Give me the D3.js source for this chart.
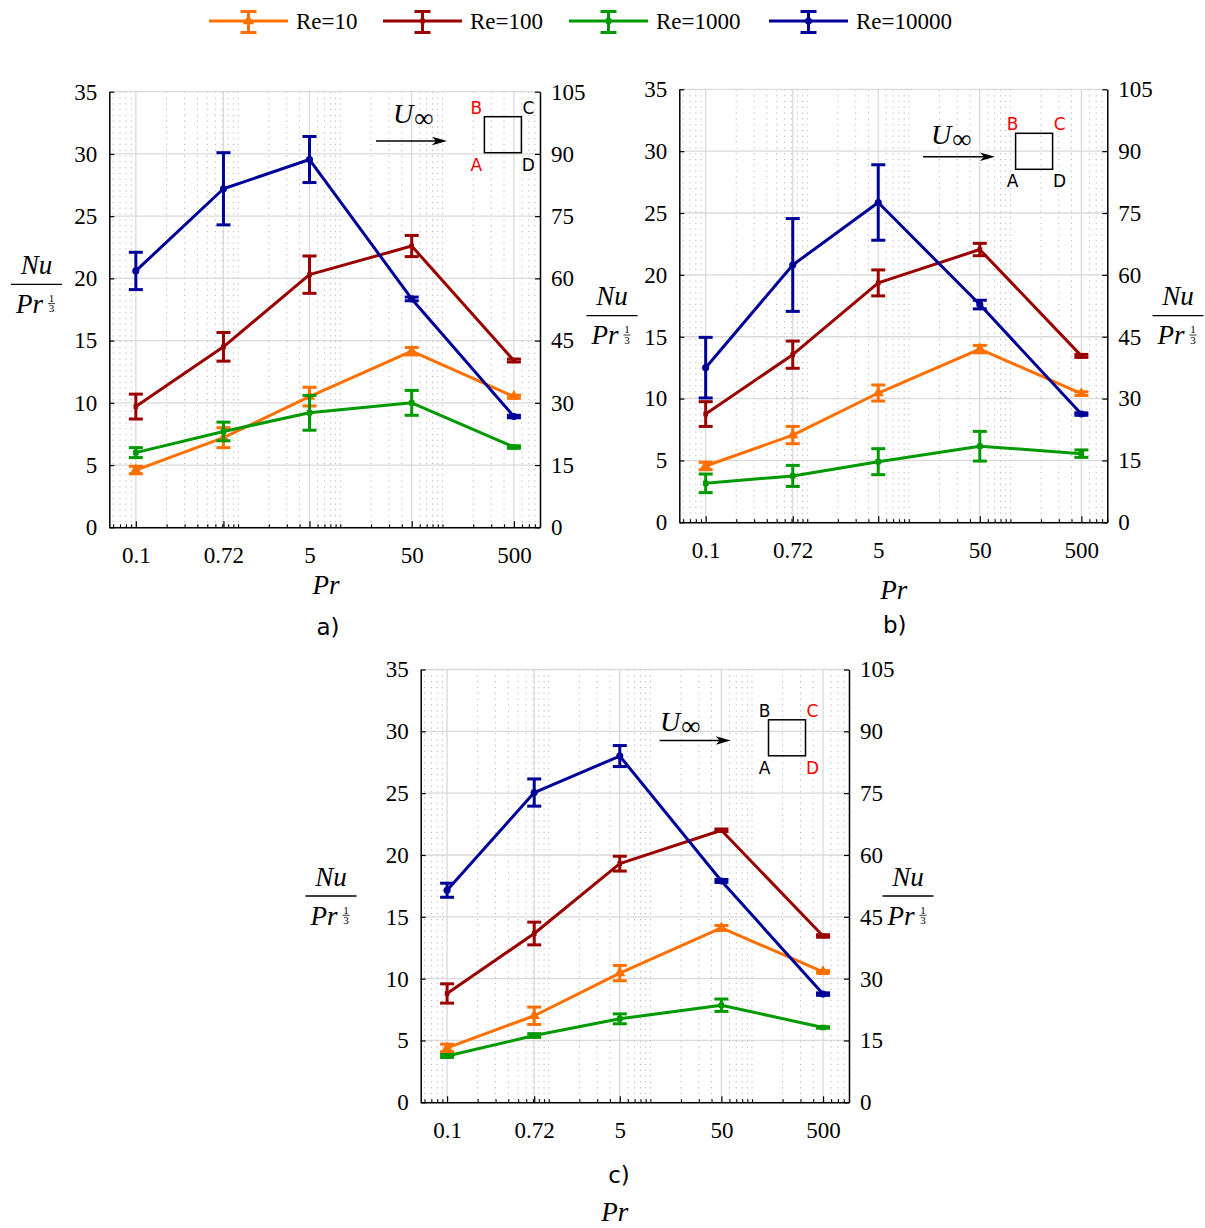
<!DOCTYPE html>
<html>
<head>
<meta charset="utf-8">
<script src="https://cdn.jsdelivr.net/npm/d3@7"></script>
<style>
  body { margin: 0; background: #fff; }
  svg { display: block; }
</style>
</head>
<body>
<svg id="chart" width="1205" height="1228"></svg>
<script>
// ---------- data ----------
const prValues = [0.1, 0.72, 5, 50, 500];
const prTickLabels = ["0.1", "0.72", "5", "50", "500"];
const seriesNames = ["Re=10", "Re=100", "Re=1000", "Re=10000"];
const leftTicks = [0, 5, 10, 15, 20, 25, 30, 35];
const rightTicks = [0, 15, 30, 45, 60, 75, 90, 105];
const cornerLetters = ["A", "B", "C", "D"];

// a) faces A-B highlighted; rows: Re=10, Re=100, Re=1000, Re=10000
const nuA = [
  [4.6, 7.2, 10.5, 14.15, 10.5],
  [9.7, 14.5, 20.3, 22.6, 13.4],
  [6.0, 7.7, 9.2, 10.0, 6.45],
  [20.6, 27.2, 29.55, 18.35, 8.9]
];
const errA = [
  [0.3, 0.8, 0.75, 0.3, 0.12],
  [1.0, 1.15, 1.5, 0.85, 0.12],
  [0.4, 0.75, 1.4, 1.0, 0.1],
  [1.5, 2.9, 1.85, 0.15, 0.1]
];
const highlightA = ["A", "B"];

// b) faces B-C highlighted
const nuB = [
  [4.55, 7.05, 10.45, 14.0, 10.4],
  [8.75, 13.55, 19.35, 22.05, 13.45],
  [3.15, 3.75, 4.9, 6.15, 5.55],
  [12.5, 20.8, 25.85, 17.6, 8.75]
];
const errB = [
  [0.3, 0.7, 0.65, 0.3, 0.15],
  [1.0, 1.1, 1.05, 0.5, 0.12],
  [0.75, 0.85, 1.05, 1.2, 0.3],
  [2.45, 3.75, 3.05, 0.35, 0.1]
];
const highlightB = ["B", "C"];

// c) faces C-D highlighted
const nuC = [
  [4.4, 7.0, 10.45, 14.1, 10.55],
  [8.8, 13.65, 19.3, 22.0, 13.45],
  [3.75, 5.4, 6.75, 7.85, 6.05],
  [17.15, 25.05, 28.0, 17.9, 8.75]
];
const errC = [
  [0.3, 0.7, 0.62, 0.2, 0.1],
  [0.78, 0.92, 0.6, 0.1, 0.1],
  [0.12, 0.15, 0.4, 0.5, 0.06],
  [0.57, 1.1, 0.85, 0.12, 0.1]
];
const highlightC = ["C", "D"];

// ---------- styling ----------
const colors = ["#ff7000", "#990000", "#009900", "#000099"];
const symbols = [d3.symbolTriangle, d3.symbolSquare, d3.symbolSquare, d3.symbolCircle];
const symbolSizes = [55, 22, 30, 40];
const SERIF = '"Liberation Serif", "Times New Roman", serif';
const SANS = '"DejaVu Sans", "Liberation Sans", sans-serif';
const tickFont = 23;

const panels = [
  { label: "a)", nu: nuA, err: errA, highlight: highlightA,
    left: 109.3, right: 540, top: 91.7, bottom: 527.3,
    inset: { sqX: 375.1, sqY: 25, ax1: 266.7, ax2: 337.7, ay: 49.3, uX: 283.7, uY: 31.3, ldx: 8 },
    yLabels: [[36.5, 284.3]], xLabel: [326, 585], panelLabel: [328, 627] },
  { label: "b)", nu: nuB, err: errB, highlight: highlightB,
    left: 679.3, right: 1107.3, top: 89.3, bottom: 522.3,
    inset: { sqX: 336.3, sqY: 44, ax1: 243.7, ax2: 315.7, ay: 67.4, uX: 251.7, uY: 54.7, ldx: 3 },
    yLabels: [[612, 315.7], [1178, 315.7]], xLabel: [893.7, 590], panelLabel: [894.8, 625] },
  { label: "c)", nu: nuC, err: errC, highlight: highlightC,
    left: 420.7, right: 849, top: 669.5, bottom: 1102.3,
    inset: { sqX: 347.8, sqY: 50.3, ax1: 238.9, ax2: 310, ay: 71, uX: 239.3, uY: 61.7, ldx: 4 },
    yLabels: [[331, 896], [908, 896]], xLabel: [614.8, 1212], panelLabel: [619, 1175] }
];

const svg = d3.select("#chart");
svg.append("rect").attr("width", 1205).attr("height", 1228).attr("fill", "#fff");

// text helper: inline styles so nothing inherited overrides the font
function txt(g, x, y, str, family, size, italic) {
  return g.append("text").attr("x", x).attr("y", y)
    .style("font-family", family)
    .style("font-size", size + "px")
    .style("font-style", italic ? "italic" : "normal")
    .text(str);
}

function fracLabel(g, cx, cy) {
  const w = 51;
  g.append("line")
    .attr("x1", cx - w / 2).attr("x2", cx + w / 2)
    .attr("y1", cy).attr("y2", cy)
    .attr("stroke", "#000").attr("stroke-width", 1.3);
  txt(g, cx, cy - 10.5, "Nu", SERIF, 27, true).attr("text-anchor", "middle");
  const pr = txt(g, 0, cy + 28.5, "Pr", SERIF, 27, true);
  const pw = pr.node().getComputedTextLength();
  const x0 = cx - (pw + 14) / 2;
  pr.attr("x", x0);
  const fx = x0 + pw + 8.5;
  txt(g, fx, cy + 17.5, "1", SERIF, 11, false).attr("text-anchor", "middle");
  g.append("line")
    .attr("x1", fx - 3.5).attr("x2", fx + 3.5)
    .attr("y1", cy + 19.3).attr("y2", cy + 19.3)
    .attr("stroke", "#000").attr("stroke-width", 0.8);
  txt(g, fx, cy + 28, "3", SERIF, 11, false).attr("text-anchor", "middle");
}

function drawArrow(g, x1, x2, y) {
  g.append("line")
    .attr("x1", x1).attr("x2", x2 - 8).attr("y1", y).attr("y2", y)
    .attr("stroke", "#000").attr("stroke-width", 1.4);
  g.append("path")
    .attr("d", `M${x2},${y} L${x2 - 15},${y - 4.2} L${x2 - 11},${y} L${x2 - 15},${y + 4.2} Z`)
    .attr("fill", "#000");
}

function styleAxis(sel) {
  sel.attr("font-family", null).attr("font-size", null);
  sel.select(".domain").attr("stroke", "#000").attr("stroke-width", 1.5);
  sel.selectAll(".tick line").attr("stroke", "#000").attr("stroke-width", 1.2);
  sel.selectAll(".tick text")
    .style("font-family", SERIF)
    .style("font-size", tickFont + "px")
    .attr("fill", "#000");
}

panels.forEach(p => {
  const g = svg.append("g");
  const x = d3.scaleLog().domain([0.055, 900]).range([p.left, p.right]);
  const y = d3.scaleLinear().domain([0, 35]).range([p.bottom, p.top]);
  const yR = d3.scaleLinear().domain([0, 105]).range([p.bottom, p.top]);

  const minorVals = x.ticks().filter(v => !prValues.some(m => Math.abs(m - v) / m < 1e-6));

  // grid: dotted minor verticals, solid major lines
  const grid = g.append("g");
  grid.selectAll(".minor").data(minorVals).join("line")
    .attr("x1", d => x(d)).attr("x2", d => x(d))
    .attr("y1", p.top).attr("y2", p.bottom)
    .attr("stroke", "#b5b5b5").attr("stroke-width", 1)
    .attr("stroke-dasharray", "1.2,4.6");
  grid.selectAll(".majorx").data(prValues).join("line")
    .attr("x1", d => x(d)).attr("x2", d => x(d))
    .attr("y1", p.top).attr("y2", p.bottom)
    .attr("stroke", "#dadada").attr("stroke-width", 1.3);
  grid.selectAll(".majory").data(leftTicks).join("line")
    .attr("x1", p.left).attr("x2", p.right)
    .attr("y1", d => y(d)).attr("y2", d => y(d))
    .attr("stroke", "#dadada").attr("stroke-width", 1.3);

  // axes
  const ax = g.append("g").attr("transform", `translate(0,${p.bottom})`)
    .call(d3.axisBottom(x).tickValues(prValues).tickFormat((d, i) => prTickLabels[i])
      .tickSizeInner(-6).tickSizeOuter(0).tickPadding(19));
  styleAxis(ax);
  const axm = g.append("g").attr("transform", `translate(0,${p.bottom})`)
    .call(d3.axisBottom(x).tickValues(minorVals).tickFormat(() => "")
      .tickSizeInner(-3).tickSizeOuter(0));
  axm.select(".domain").remove();
  axm.selectAll(".tick line").attr("stroke", "#000").attr("stroke-width", 1.1);

  const ayL = g.append("g").attr("transform", `translate(${p.left},0)`)
    .call(d3.axisLeft(y).tickValues(leftTicks).tickSizeInner(-5).tickSizeOuter(0).tickPadding(12));
  styleAxis(ayL);
  const ayR = g.append("g").attr("transform", `translate(${p.right},0)`)
    .call(d3.axisRight(yR).tickValues(rightTicks).tickSizeInner(-5).tickSizeOuter(0).tickPadding(11));
  styleAxis(ayR);

  // series: line, error bars, markers
  const line = d3.line().x((d, i) => x(prValues[i])).y(d => y(d));
  p.nu.forEach((vals, s) => {
    const sg = g.append("g");
    sg.append("path").datum(vals).attr("d", line)
      .attr("fill", "none").attr("stroke", colors[s]).attr("stroke-width", 3)
      .attr("stroke-linejoin", "round");
    vals.forEach((v, i) => {
      const e = p.err[s][i];
      const cx = x(prValues[i]);
      const y1 = y(v + e), y2 = y(v - e);
      sg.append("line").attr("x1", cx).attr("x2", cx).attr("y1", y1).attr("y2", y2)
        .attr("stroke", colors[s]).attr("stroke-width", 3);
      [y1, y2].forEach(yy => {
        sg.append("line").attr("x1", cx - 7).attr("x2", cx + 7).attr("y1", yy).attr("y2", yy)
          .attr("stroke", colors[s]).attr("stroke-width", 3);
      });
      sg.append("path")
        .attr("d", d3.symbol().type(symbols[s]).size(symbolSizes[s])())
        .attr("transform", `translate(${cx},${y(v)})`)
        .attr("fill", colors[s]);
    });
  });

  // inset: free-stream arrow and square cylinder with corner letters
  const ins = p.inset;
  const ig = g.append("g").attr("transform", `translate(${p.left},${p.top})`);
  drawArrow(ig, ins.ax1, ins.ax2, ins.ay);
  const u = txt(ig, ins.uX, ins.uY, "U", SERIF, 28, true);
  const uw = u.node().getComputedTextLength();
  txt(ig, ins.uX + uw + 1, ins.uY + 4, "\u221e", SERIF, 27, false);
  const sq = 37;
  ig.append("rect").attr("x", ins.sqX).attr("y", ins.sqY).attr("width", sq).attr("height", sq - 1)
    .attr("fill", "none").attr("stroke", "#000").attr("stroke-width", 1.5);
  const corner = {
    A: [ins.sqX - ins.ldx, ins.sqY + sq + 11],
    B: [ins.sqX - ins.ldx, ins.sqY - 9],
    C: [ins.sqX + sq + 7, ins.sqY - 9],
    D: [ins.sqX + sq + 7, ins.sqY + sq + 11]
  };
  cornerLetters.forEach(c => {
    txt(ig, corner[c][0], corner[c][1], c, SANS, 17, false)
      .attr("text-anchor", "middle").attr("dominant-baseline", "central")
      .attr("fill", p.highlight.includes(c) ? "#ff0000" : "#000");
  });

  // axis titles and panel tag
  p.yLabels.forEach(([cx, cy]) => fracLabel(g, cx, cy));
  txt(g, p.xLabel[0], p.xLabel[1], "Pr", SERIF, 27, true)
    .attr("text-anchor", "middle").attr("dominant-baseline", "central");
  txt(g, p.panelLabel[0], p.panelLabel[1], p.label, SANS, 23, false)
    .attr("text-anchor", "middle").attr("dominant-baseline", "central");
});

// legend
const legendX = [209, 383, 569, 769];
const legendY = 21;
const lg = svg.append("g");
seriesNames.forEach((name, s) => {
  const x0 = legendX[s], mx = x0 + 39.5;
  lg.append("line").attr("x1", x0).attr("x2", x0 + 79).attr("y1", legendY).attr("y2", legendY)
    .attr("stroke", colors[s]).attr("stroke-width", 3);
  lg.append("line").attr("x1", mx).attr("x2", mx).attr("y1", legendY - 9.5).attr("y2", legendY + 11.5)
    .attr("stroke", colors[s]).attr("stroke-width", 3);
  [legendY - 9.5, legendY + 11.5].forEach(yy => {
    lg.append("line").attr("x1", mx - 8).attr("x2", mx + 8).attr("y1", yy).attr("y2", yy)
      .attr("stroke", colors[s]).attr("stroke-width", 3);
  });
  lg.append("path").attr("d", d3.symbol().type(symbols[s]).size(symbolSizes[s])())
    .attr("transform", `translate(${mx},${legendY})`).attr("fill", colors[s]);
  txt(lg, x0 + 87, legendY, name, SERIF, 23, false).attr("dominant-baseline", "central");
});
</script>
</body>
</html>
